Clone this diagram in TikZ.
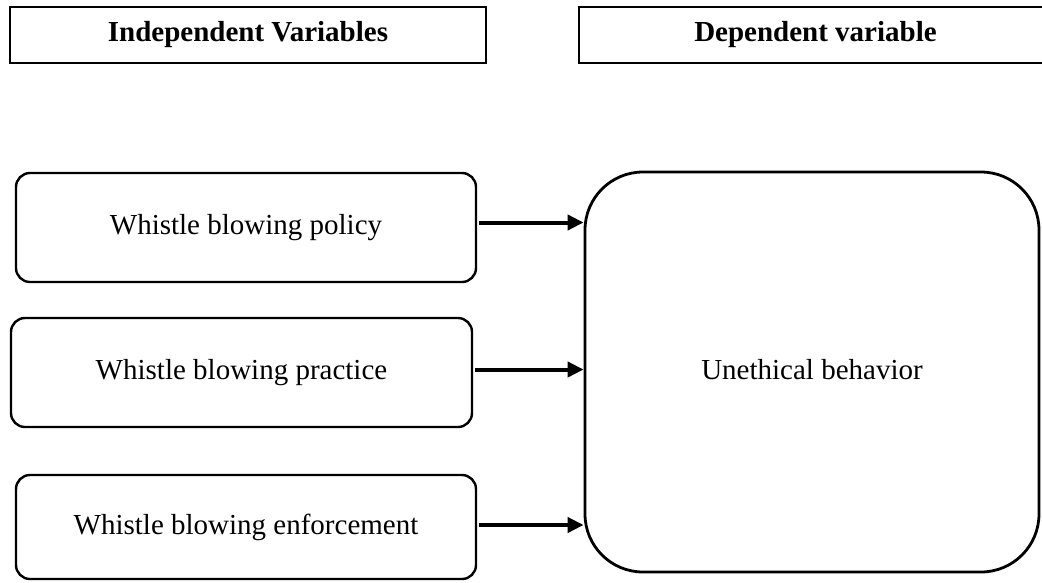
\documentclass[tikz,border=0pt]{standalone}
\usepackage{fontspec}
\setmainfont{Liberation Serif}
\usetikzlibrary{arrows.meta}

\begin{document}
\begin{tikzpicture}[x=1pt, y=-1pt, >={Triangle[length=16pt,width=15pt]}]
% Stili per le caselle e le frecce
\tikzset{titolo/.style={draw, line width=2.6pt, minimum height=56pt, inner sep=0pt, font=\fontsize{29}{34}\selectfont\bfseries}}
\tikzset{variabile/.style={draw, line width=2.4pt, rounded corners=14pt, minimum width=460pt, minimum height=109pt, inner sep=0pt, font=\fontsize{29}{34}\selectfont}}
\tikzset{freccia/.style={->, line width=4pt}}

% Area visibile (la casella di destra esce dal bordo)
\clip (0,0) rectangle (1042,582);

% --- TITOLI ---
\node[titolo, minimum width=476pt] (indip) at (248,35) {Independent Variables};
\node[titolo, minimum width=473pt] (dip) at (815.5,35) {Dependent variable};

% --- VARIABILI INDIPENDENTI ---
\node[variabile] (pol) at (246,227.5) {\raisebox{4pt}{Whistle blowing policy}};
\node[variabile, minimum width=461pt] (pra) at (241.5,372.5) {Whistle blowing practice};
\node[variabile, minimum height=104pt] (enf) at (246,527) {\raisebox{3pt}{Whistle blowing enforcement}};

% --- VARIABILE DIPENDENTE ---
\node[draw, line width=2.8pt, rounded corners=58pt, minimum width=454pt, minimum height=400pt, inner sep=0pt,
      font=\fontsize{29}{34}\selectfont] (ub) at (812,372) {\raisebox{6pt}{Unethical behavior}};

% Frecce verso la variabile dipendente
\draw[freccia] ([xshift=2pt,yshift=5pt]pol.east) -- ([yshift=5pt]pol.east -| ub.west);
\draw[freccia] ([xshift=2pt,yshift=3pt]pra.east) -- ([yshift=3pt]pra.east -| ub.west);
\draw[freccia] ([xshift=2pt,yshift=2pt]enf.east) -- ([yshift=2pt]enf.east -| ub.west);

\end{tikzpicture}
\end{document}
